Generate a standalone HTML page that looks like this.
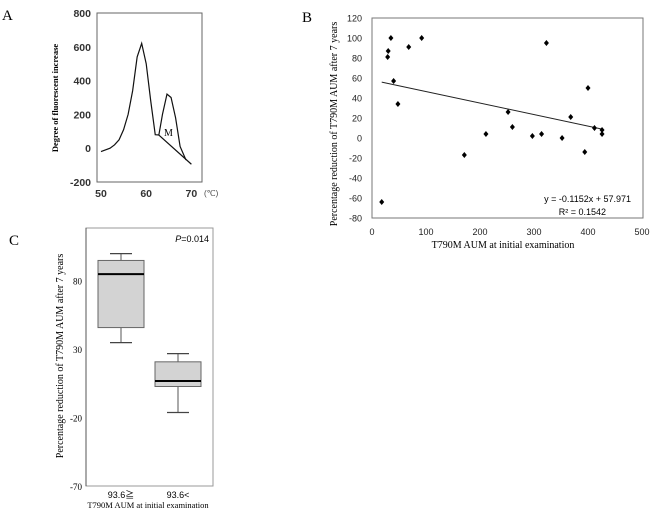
<!DOCTYPE html>
<html><head><meta charset="utf-8"><style>
body{margin:0;background:#fff;}
svg{display:block;font-family:"Liberation Sans",sans-serif;}
.serif{font-family:"Liberation Serif",serif;}
.cjk{font-family:"Liberation Sans","Noto Sans CJK JP",sans-serif;}
</style></head><body>
<svg id="fig" width="650" height="510" viewBox="0 0 650 510">
<g id="panelA"></g>
<g id="panelB"></g>
<g id="panelC"></g>
</svg>
<script>
// Panel A: melting curve
const aTemps = [50,52,53,54,55,56,57,58,59,60,61,62,62.8,63.6,64.6,65.5,66.5,67.5,68.8];
const aValues = [-20,0,20,50,110,200,340,540,620,500,280,80,78,200,320,300,180,10,-70];
const aBaseTemps = [62.8,70];
const aBaseValues = [78,-95];
const aYTicks = [800,600,400,200,0,-200];
const aXTicks = [50,60,70];
// Panel B: scatter
const bX = [18,29,30,35,40,48,68,92,171,211,252,260,297,314,323,352,368,394,400,412,426,426];
const bY = [-64,81,87,100,57,34,91,100,-17,4,26,11,2,4,95,0,21,-14,50,10,8,4];
const bSlope = -0.1152, bIntercept = 57.971;
const bYTicks = [120,100,80,60,40,20,0,-20,-40,-60,-80];
const bXTicks = [0,100,200,300,400,500];
// Panel C: box plot
const cCats = ["93.6≧","93.6<"];
const cMax = [100,27];
const cQ3 = [95,21];
const cMed = [85,7];
const cQ1 = [46,3];
const cMin = [35,-16];
const cYTicks = [80,30,-20,-70];

const NS="http://www.w3.org/2000/svg";
function el(parent,tag,attrs,text){const e=document.createElementNS(NS,tag);for(const k in attrs)e.setAttribute(k,attrs[k]);if(text!==undefined)e.textContent=text;parent.appendChild(e);return e;}

// ---- Panel A
const A=document.getElementById('panelA');
const ax=t=>101+(t-50)*4.52, ay=v=>13+(800-v)*0.169;
let e;
e=el(A,'text',{x:2,y:20,'font-size':15,class:'serif'},'A');

e=el(A,'rect',{x:97,y:13,width:105,height:169,fill:'none',stroke:'#666','stroke-width':1});

aYTicks.forEach(v=>{e=el(A,'text',{x:91,y:ay(v)+4,'font-size':10.5,'font-weight':'bold','text-anchor':'end',fill:'#333'},v);
});
aXTicks.forEach(t=>{e=el(A,'text',{x:ax(t),y:197,'font-size':10.5,'font-weight':'bold','text-anchor':'middle',fill:'#333'},t);
});
e=el(A,'text',{x:204,y:196,'font-size':8,fill:'#444'},'(℃)');

e=el(A,'text',{transform:'translate(58,98) rotate(-90)','font-size':8.5,'font-weight':'bold','text-anchor':'middle',class:'serif'},'Degree of  fluorescent  increase');

e=el(A,'polyline',{points:aTemps.map((t,i)=>ax(t)+','+ay(aValues[i])).join(' '),fill:'none',stroke:'#111','stroke-width':1.2});

e=el(A,'polyline',{points:aBaseTemps.map((t,i)=>ax(t)+','+ay(aBaseValues[i])).join(' '),fill:'none',stroke:'#111','stroke-width':1.2});

e=el(A,'text',{x:164,y:136,'font-size':10,class:'serif'},'M');


// ---- Panel B
const B=document.getElementById('panelB');
const bx=v=>372+v*0.54, by=v=>18+(120-v)*1.0;
e=el(B,'text',{x:302,y:22,'font-size':15,class:'serif'},'B');

e=el(B,'rect',{x:372,y:18,width:271,height:200,fill:'none',stroke:'#777','stroke-width':1});

bYTicks.forEach(v=>{e=el(B,'text',{x:362,y:by(v)+3.5,'font-size':9,'text-anchor':'end',fill:'#222'},v);
});
bXTicks.forEach(v=>{e=el(B,'text',{x:bx(v),y:235,'font-size':9,'text-anchor':'middle',fill:'#222'},v);
});
e=el(B,'text',{x:503,y:248,'font-size':10,'text-anchor':'middle',class:'serif'},'T790M AUM at initial examination');

e=el(B,'text',{transform:'translate(337,124) rotate(-90)','font-size':10,'text-anchor':'middle',class:'serif'},'Percentage reduction of T790M AUM after 7 years');

const xmin=Math.min(...bX), xmax=Math.max(...bX);
e=el(B,'line',{x1:bx(xmin),y1:by(bSlope*xmin+bIntercept),x2:bx(xmax),y2:by(bSlope*xmax+bIntercept),stroke:'#222','stroke-width':1});

bX.forEach((x,i)=>{const cx=bx(x),cy=by(bY[i]);
e=el(B,'polygon',{points:`${cx},${cy-3} ${cx+2.5},${cy} ${cx},${cy+3} ${cx-2.5},${cy}`,fill:'#000'});
});
e=el(B,'text',{x:631,y:202,'font-size':9,'text-anchor':'end'},'y = -0.1152x + 57.971');

e=el(B,'text',{x:606,y:215,'font-size':9,'text-anchor':'end'},'R² = 0.1542');


// ---- Panel C
const C=document.getElementById('panelC');
const cy=v=>281+(80-v)*1.37;
const cCenters=[121,178], bw=46;
e=el(C,'text',{x:9,y:245,'font-size':15,class:'serif'},'C');

e=el(C,'rect',{x:86,y:228,width:127,height:258,fill:'none',stroke:'#999','stroke-width':1});

e=el(C,'line',{x1:86,y1:228,x2:86,y2:486,stroke:'#555','stroke-width':1});

e=el(C,'text',{x:209,y:242,'font-size':9,'text-anchor':'end'});
e.innerHTML='<tspan font-style="italic">P</tspan>=0.014';

cYTicks.forEach(v=>{e=el(C,'text',{x:82,y:cy(v)+3.5,'font-size':9,'text-anchor':'end',class:'serif'},v);
});
e=el(C,'text',{transform:'translate(63,356) rotate(-90)','font-size':10,'text-anchor':'middle',class:'serif'},'Percentage reduction of T790M AUM after 7 years');

cCats.forEach((c,i)=>{const x=cCenters[i];
e=el(C,'line',{x1:x,y1:cy(cMax[i]),x2:x,y2:cy(cQ3[i]),stroke:'#555'});

e=el(C,'line',{x1:x-11,y1:cy(cMax[i]),x2:x+11,y2:cy(cMax[i]),stroke:'#444','stroke-width':1.2});

e=el(C,'line',{x1:x,y1:cy(cQ1[i]),x2:x,y2:cy(cMin[i]),stroke:'#555'});

e=el(C,'line',{x1:x-11,y1:cy(cMin[i]),x2:x+11,y2:cy(cMin[i]),stroke:'#444','stroke-width':1.2});

e=el(C,'rect',{x:x-bw/2,y:cy(cQ3[i]),width:bw,height:cy(cQ1[i])-cy(cQ3[i]),fill:'#d3d3d3',stroke:'#666'});

e=el(C,'line',{x1:x-bw/2,y1:cy(cMed[i]),x2:x+bw/2,y2:cy(cMed[i]),stroke:'#000','stroke-width':2});

e=el(C,'text',{x:x,y:498,'font-size':9,'text-anchor':'middle',class:'cjk'},c);

});
e=el(C,'text',{x:148,y:508,'font-size':8.5,'text-anchor':'middle',class:'serif'},'T790M AUM at initial examination');

</script>
</body></html>
